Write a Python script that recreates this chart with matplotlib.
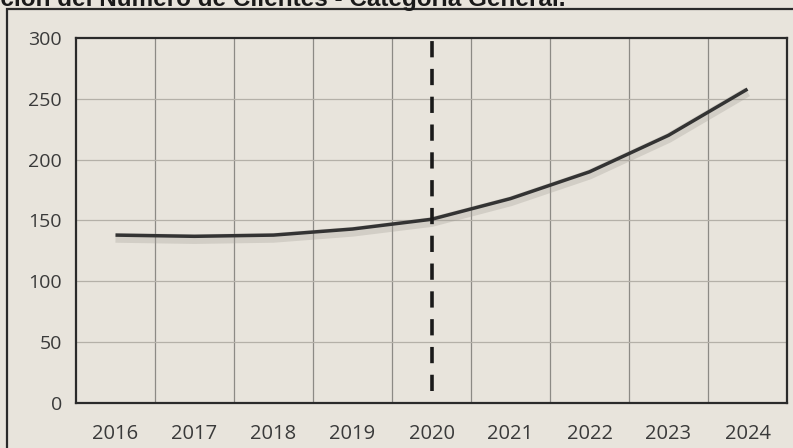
import matplotlib.pyplot as plt
from matplotlib.patches import Rectangle
import matplotlib.patheffects as pe
import numpy as np

# datos
anios = ['2016', '2017', '2018', '2019', '2020', '2021', '2022', '2023', '2024']
clientes = [138, 137, 138, 143, 151, 168, 190, 220, 258]
ticks_y = [0, 50, 100, 150, 200, 250, 300]
titulo = 'Evolución del Número de Clientes - Categoría General.'
anio_corte = '2020'

fondo = '#e8e4dc'
texto = '#3a3a3a'

fig = plt.figure(figsize=(7.93, 4.48), dpi=100, facecolor=fondo)
ax = fig.add_axes([76/793, 45/448, 711/793, 365/448])
ax.set_facecolor(fondo)

x = np.arange(len(anios))

# sombra + linea principal
ax.plot(x, clientes, color='#333333', lw=2.5, solid_capstyle='butt',
        path_effects=[pe.SimpleLineShadow(offset=(0, -2), shadow_color='#a09c94', alpha=0.3, linewidth=7),
                      pe.Normal()], zorder=4)

# linea de corte
xc = anios.index(anio_corte)
ax.plot([xc, xc], [10, 300], color='#1a1a1a', lw=2.6, dashes=(4.5, 3.2), zorder=5)

ax.set_xlim(-0.5, len(anios) - 0.5)
ax.set_ylim(0, 300)
ax.set_yticks(ticks_y)
ax.set_xticks(x)
ax.set_xticklabels(anios)

# rejilla en los limites de categoria
for b in np.arange(0.5, len(anios) - 0.5, 1):
    ax.axvline(b, color='#8c8a85', lw=0.9, zorder=1)
for t in ticks_y[1:-1]:
    ax.axhline(t, color='#b4b0a8', lw=0.9, zorder=1)

for s in ax.spines.values():
    s.set_color('#2a2a2a')
    s.set_linewidth(1.6)

fuente = ['Open Sans', 'DejaVu Sans']
ax.tick_params(length=0, labelcolor=texto)
ax.tick_params(axis='x', pad=15)
ax.tick_params(axis='y', pad=10)
for lab in ax.get_xticklabels():
    lab.set_family(fuente)
    lab.set_fontsize(14.5)
for lab in ax.get_yticklabels():
    lab.set_family(fuente)
    lab.set_fontsize(14)

# marco exterior y titulo recortado
fig.patches.append(Rectangle((7/793, -0.1), 1.0, 1 - 9/448 + 0.1, transform=fig.transFigure,
                             fill=False, edgecolor='#2a2a2a', lw=1.6))
fig.text(565/793, 1 - 6/448, titulo, ha='right', va='baseline', fontsize=17.5,
         fontweight='bold', family=['Liberation Sans', 'DejaVu Sans'], color='#1a1a1a')

fig.savefig('out.png', dpi=100, facecolor=fondo)
